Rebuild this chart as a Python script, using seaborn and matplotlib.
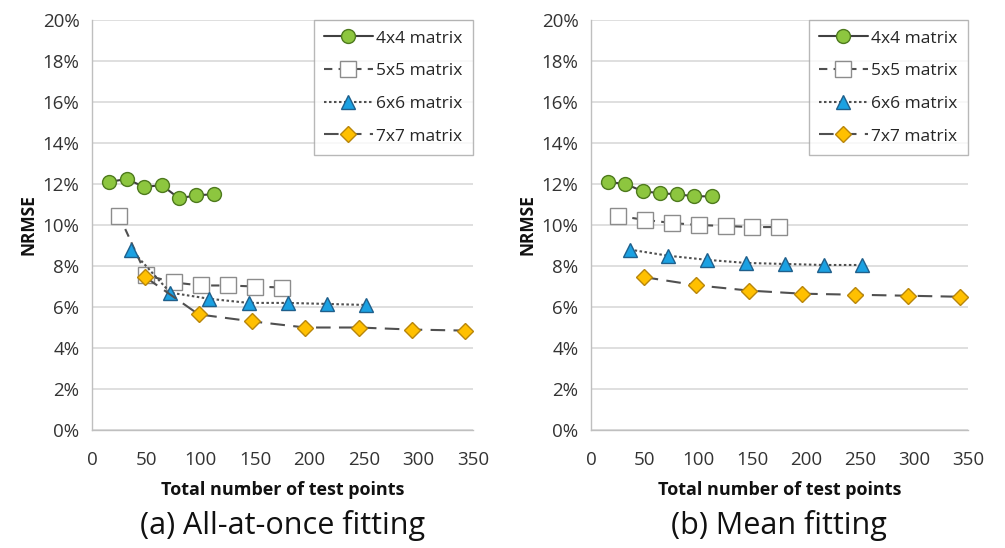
import numpy as np
import pandas as pd
import matplotlib
matplotlib.use("Agg")
import matplotlib.pyplot as plt
import seaborn as sns

# ── data (NRMSE in %) ───────────────────────────────────────
series_names = ["4x4 matrix", "5x5 matrix", "6x6 matrix", "7x7 matrix"]

x_4x4 = [16, 32, 48, 64, 80, 96, 112]
x_5x5 = [25, 50, 75, 100, 125, 150, 175]
x_6x6 = [36, 72, 108, 144, 180, 216, 252]
x_7x7 = [49, 98, 147, 196, 245, 294, 343]

# (a) all-at-once fitting
a_4x4 = [12.1, 12.25, 11.85, 11.95, 11.3, 11.45, 11.5]
a_5x5 = [10.45, 7.55, 7.2, 7.05, 7.05, 7.0, 6.95]
a_6x6 = [8.8, 6.7, 6.4, 6.2, 6.2, 6.15, 6.1]
a_7x7 = [7.46, 5.64, 5.3, 5.0, 5.0, 4.9, 4.85]

# (b) mean fitting
b_4x4 = [12.1, 12.0, 11.65, 11.55, 11.5, 11.4, 11.4]
b_5x5 = [10.45, 10.25, 10.1, 10.0, 9.95, 9.9, 9.9]
b_6x6 = [8.8, 8.5, 8.3, 8.15, 8.1, 8.05, 8.05]
b_7x7 = [7.46, 7.06, 6.8, 6.65, 6.6, 6.55, 6.5]

x_ticks = [0, 50, 100, 150, 200, 250, 300, 350]
y_ticks = [0, 2, 4, 6, 8, 10, 12, 14, 16, 18, 20]
panel_titles = ["(a) All-at-once fitting", "(b) Mean fitting"]

# ── styles ──────────────────────────────────────────────────
styles = [
    dict(marker="o", color="#404040", linestyle="-", markerfacecolor="#8DC63F",
         markeredgecolor="#4E7A1E", markersize=10),
    dict(marker="s", color="#505050", linestyle=(0, (4, 3)), markerfacecolor="white",
         markeredgecolor="#8C8C8C", markersize=11),
    dict(marker="^", color="#505050", linestyle=(0, (1.2, 1.2)), markerfacecolor="#1BA1E2",
         markeredgecolor="#1F5F8B", markersize=10),
    dict(marker="D", color="#505050", linestyle=(0, (7, 4)), markerfacecolor="#FFC000",
         markeredgecolor="#B8860B", markersize=8),
]

sns.set_theme(style="white")
plt.rcParams["font.family"] = ["Open Sans", "DejaVu Sans"]

fig = plt.figure(figsize=(10.05, 5.48), dpi=100)
ax_a = fig.add_axes([0.0915, 0.2153, 0.379, 0.7482])
ax_b = fig.add_axes([0.588, 0.2153, 0.375, 0.7482])

xs = [x_4x4, x_5x5, x_6x6, x_7x7]
panels = [(ax_a, [a_4x4, a_5x5, a_6x6, a_7x7]), (ax_b, [b_4x4, b_5x5, b_6x6, b_7x7])]

for (ax, ys), title in zip(panels, panel_titles):
    for name, x, y, st in zip(series_names, xs, ys, styles):
        df = pd.DataFrame({"x": x, "y": y})
        sns.lineplot(data=df, x="x", y="y", ax=ax, label=name, linewidth=1.5,
                     markeredgewidth=1.0, **st)

    ax.set_xlim(0, 350)
    ax.set_ylim(0, 20)
    ax.set_xticks(x_ticks)
    ax.set_yticks(y_ticks)
    ax.set_yticklabels([f"{v}%" for v in y_ticks])
    ax.tick_params(axis="both", labelsize=13.5, colors="#333333", length=5,
                   width=0.8, direction="out", color="#BFBFBF")
    ax.tick_params(axis="x", pad=10)
    ax.tick_params(axis="y", pad=4)
    ax.grid(axis="y", color="#D9D9D9", linewidth=1.2)
    ax.grid(axis="x", visible=False)
    for side in ["top", "right"]:
        ax.spines[side].set_visible(False)
    for side in ["left", "bottom"]:
        ax.spines[side].set_color("#BFBFBF")
        ax.spines[side].set_linewidth(1.0)

    ax.set_xlabel("Total number of test points", fontsize=13, fontweight="bold",
                  color="#111111", labelpad=9)
    ax.set_ylabel("NRMSE", fontsize=12.5, fontweight="bold", color="#111111", labelpad=4)
    ax.text(0.5, -0.232, title, transform=ax.transAxes, ha="center", va="center",
            fontsize=22, color="#111111")

    leg = ax.legend(loc="upper right", bbox_to_anchor=(1.0, 1.0), fontsize=12.5,
                    frameon=True, fancybox=False, borderpad=0.6, labelspacing=0.95,
                    handlelength=2.8, handletextpad=0.2, borderaxespad=0.0)
    leg.get_frame().set_edgecolor("#A6A6A6")
    leg.get_frame().set_linewidth(1.0)

fig.savefig("out.png", dpi=100)
